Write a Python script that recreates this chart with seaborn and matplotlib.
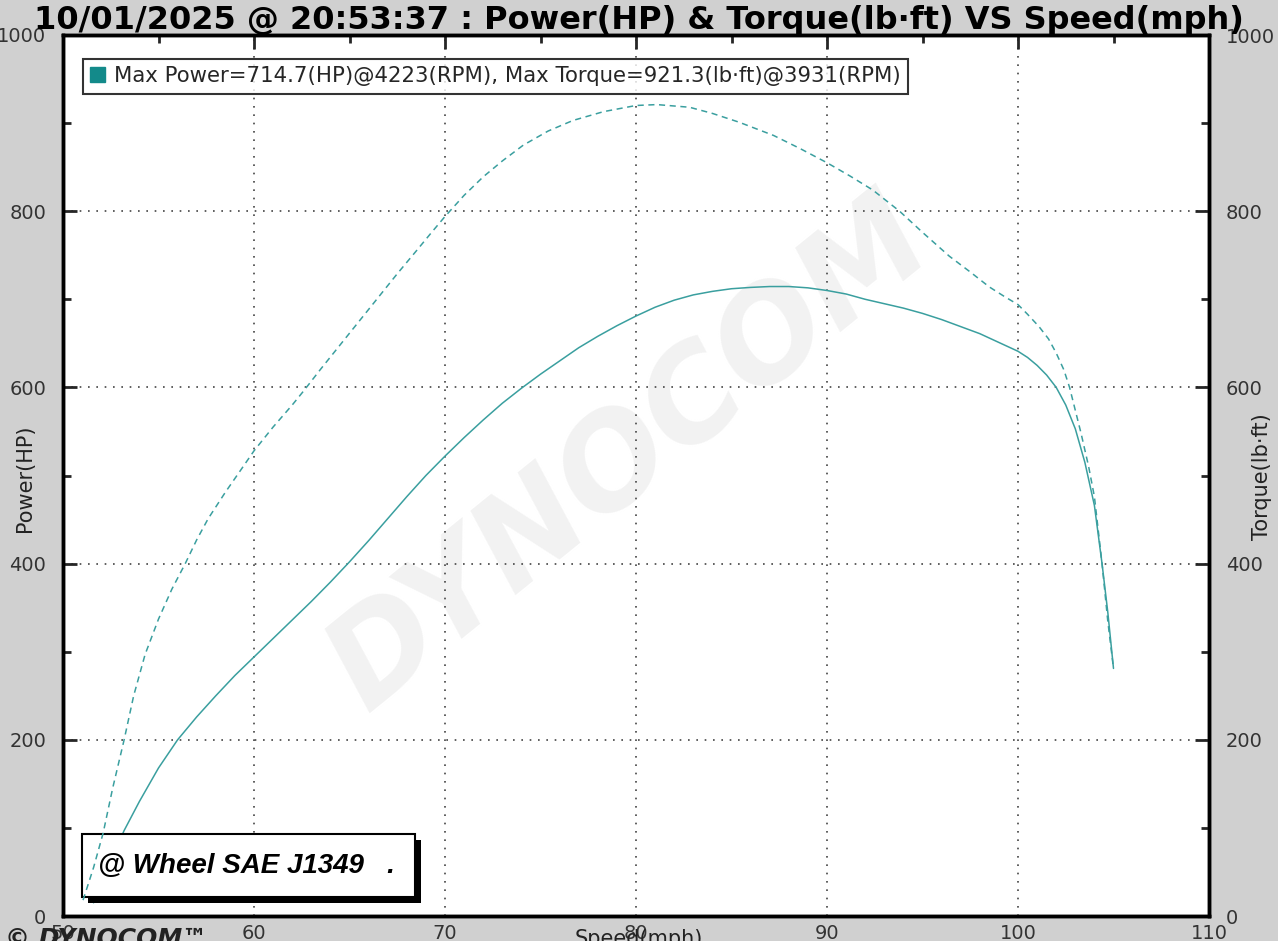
import numpy as np
import pandas as pd
import seaborn as sns
import matplotlib.pyplot as plt
import matplotlib.patheffects as pe
from matplotlib.patches import Patch, Rectangle
from matplotlib.ticker import MultipleLocator

# values (mph vs HP / lb-ft)
power_speed = [51.6, 52.4, 53.2, 54.0, 55.0, 56.0, 57.0, 58.0, 59.0, 60.0, 61.0, 62.0, 63.0,
               64.0, 65.0, 66.0, 67.0, 68.0, 69.0, 70.0, 71.0, 72.0, 73.0, 74.0, 75.0, 76.0,
               77.0, 78.0, 79.0, 80.0, 81.0, 82.0, 83.0, 84.0, 85.0, 86.0, 87.0, 88.0, 89.0,
               90.0, 91.0, 92.0, 93.0, 94.0, 95.0, 96.0, 97.0, 98.0, 99.0, 100.0, 100.5,
               101.0, 101.5, 102.0, 102.5, 103.0, 103.5, 104.0, 104.4, 104.7, 105.0]
power_hp = [15, 58, 97, 130, 168, 200, 226, 250, 273, 294, 315, 336, 357,
            379, 402, 426, 451, 476, 500, 522, 543, 563, 582, 599, 615, 630,
            645, 658, 670, 681, 691, 699, 705, 709, 712, 713.5, 714.5, 714.5, 713,
            710, 706, 700, 695, 690, 684, 677, 669, 661, 651, 641, 634,
            625, 614, 600, 580, 553, 515, 466, 400, 345, 281]

torque_speed = [51.05, 51.6, 52.1, 52.6, 53.2, 53.7, 54.3, 55.0, 55.7, 56.4, 57.0, 57.6, 58.5,
                59.3, 60.0, 61.0, 62.0, 62.6, 63.5, 64.5, 65.5, 66.5, 67.5, 68.5, 69.3, 70.0,
                71.0, 72.0, 73.0, 74.1, 75.4, 76.7, 78.3, 80.0, 81.1, 82.8, 84.0, 85.4, 87.2,
                88.6, 90.0, 91.2, 92.4, 93.8, 95.0, 96.4, 97.5, 98.5, 99.3, 100.0, 100.5,
                101.1, 101.6, 102.0, 102.4, 102.7, 103.3, 103.7, 104.0, 104.4, 104.7, 105.0]
torque_lbft = [18, 55, 94, 145, 200, 250, 297, 337, 371, 400, 427, 451, 481,
               506, 528, 555, 580, 596, 621, 648, 675, 702, 729, 755, 776, 794,
               818, 839, 857, 875, 891, 903, 913, 920, 921, 918, 911, 901, 886,
               871, 855, 840, 824, 800, 776, 749, 731, 714, 703, 694, 683,
               669, 655, 639, 620, 600, 548, 510, 476, 400, 335, 281]

title = "10/01/2025 @ 20:53:37 : Power(HP) & Torque(lb\u00b7ft) VS Speed(mph)"
legend_text = "Max Power=714.7(HP)@4223(RPM), Max Torque=921.3(lb\u00b7ft)@3931(RPM)"

teal = "#3a9f9f"
W, H = 1278, 941

sns.set_theme(style="white")
plt.rcParams['font.family'] = ['DejaVu Sans']

fig = plt.figure(figsize=(W / 100, H / 100), dpi=100, facecolor="#d0d0d0")
ax = fig.add_axes([63 / W, 25 / H, 1146 / W, 881 / H])
ax.set_facecolor("white")

df_p = pd.DataFrame({"speed": power_speed, "power": power_hp})
df_t = pd.DataFrame({"speed": torque_speed, "torque": torque_lbft})

sns.lineplot(data=df_p, x="speed", y="power", ax=ax, color=teal, lw=1.1, zorder=5)

ax2 = ax.twinx()
sns.lineplot(data=df_t, x="speed", y="torque", ax=ax2, color=teal, lw=1.1,
             linestyle=(0, (4, 3)), zorder=5)

for a in (ax, ax2):
    a.set_xlim(50, 110)
    a.set_ylim(0, 1000)
    a.yaxis.set_major_locator(MultipleLocator(200))
    a.yaxis.set_minor_locator(MultipleLocator(100))
    a.set_xlabel("")
    a.set_ylabel("")
    for s in a.spines.values():
        s.set_linewidth(2.5)
        s.set_color("black")

ax.xaxis.set_major_locator(MultipleLocator(10))
ax.xaxis.set_minor_locator(MultipleLocator(5))
ax.tick_params(axis="both", which="major", direction="in", length=10, width=2,
               labelsize=14, labelcolor="#333333", top=True, pad=12)
ax.tick_params(axis="both", which="minor", direction="in", length=6, width=2, top=True)
ax2.tick_params(axis="y", which="major", direction="in", length=10, width=2,
                labelsize=14, labelcolor="#333333", pad=12)
ax2.tick_params(axis="y", which="minor", direction="in", length=6, width=2)
ax.tick_params(axis="x", pad=6)

ax.grid(True, which="major", linestyle=(0, (1, 4)), color="#444444", lw=1.2)

# watermark
ax.text(0.495, 0.523, "DYNOCOM", transform=ax.transAxes, rotation=39, fontsize=92,
        fontweight="bold", fontstyle="italic", color="#f2f2f2", ha="center", va="center",
        zorder=0)

leg = ax.legend(handles=[Patch(color="#138a8a")], labels=[legend_text], loc="upper left",
                bbox_to_anchor=(0.008, 0.985), fontsize=15.3, frameon=True, fancybox=False,
                handlelength=0.7, handleheight=0.7, handletextpad=0.4, borderpad=0.35)
leg.get_frame().set_edgecolor("black")
leg.get_frame().set_linewidth(1.5)

# SAE J1349 stamp with drop shadow
box = Rectangle((19 / 1146, 19 / 881), 333 / 1146, 63 / 881, transform=ax.transAxes,
                facecolor="white", edgecolor="black", lw=1.5, zorder=10)
box.set_path_effects([pe.SimplePatchShadow(offset=(4, -4), shadow_rgbFace="black", alpha=1),
                      pe.Normal()])
ax.add_patch(box)
ax.text(35 / 1146, 50 / 881, "@ Wheel SAE J1349   .", transform=ax.transAxes, fontsize=20,
        family=["Liberation Sans", "DejaVu Sans"], fontweight="bold", fontstyle="italic",
        color="black", va="center", ha="left", zorder=11)

fig.text(0.5, 1 - 20 / H, title, fontsize=23, fontweight="bold", color="black",
         ha="center", va="center")
fig.text(25 / W, 1 - 478 / H, "Power(HP)", fontsize=15, color="#222222", rotation=90,
         ha="center", va="center")
fig.text(1262 / W, 1 - 477 / H, "Torque(lb\u00b7ft)", fontsize=15, color="#222222",
         rotation=90, ha="center", va="center")
fig.text(0.5, 2 / H, "Speed(mph)", fontsize=15, color="#222222", ha="center", va="center")
fig.text(0.004, 2 / H, "\u00a9 DYNOCOM\u2122", fontsize=18, fontweight="bold",
         fontstyle="italic", color="#222222", ha="left", va="center")

fig.savefig("out.png", dpi=100, facecolor=fig.get_facecolor())
